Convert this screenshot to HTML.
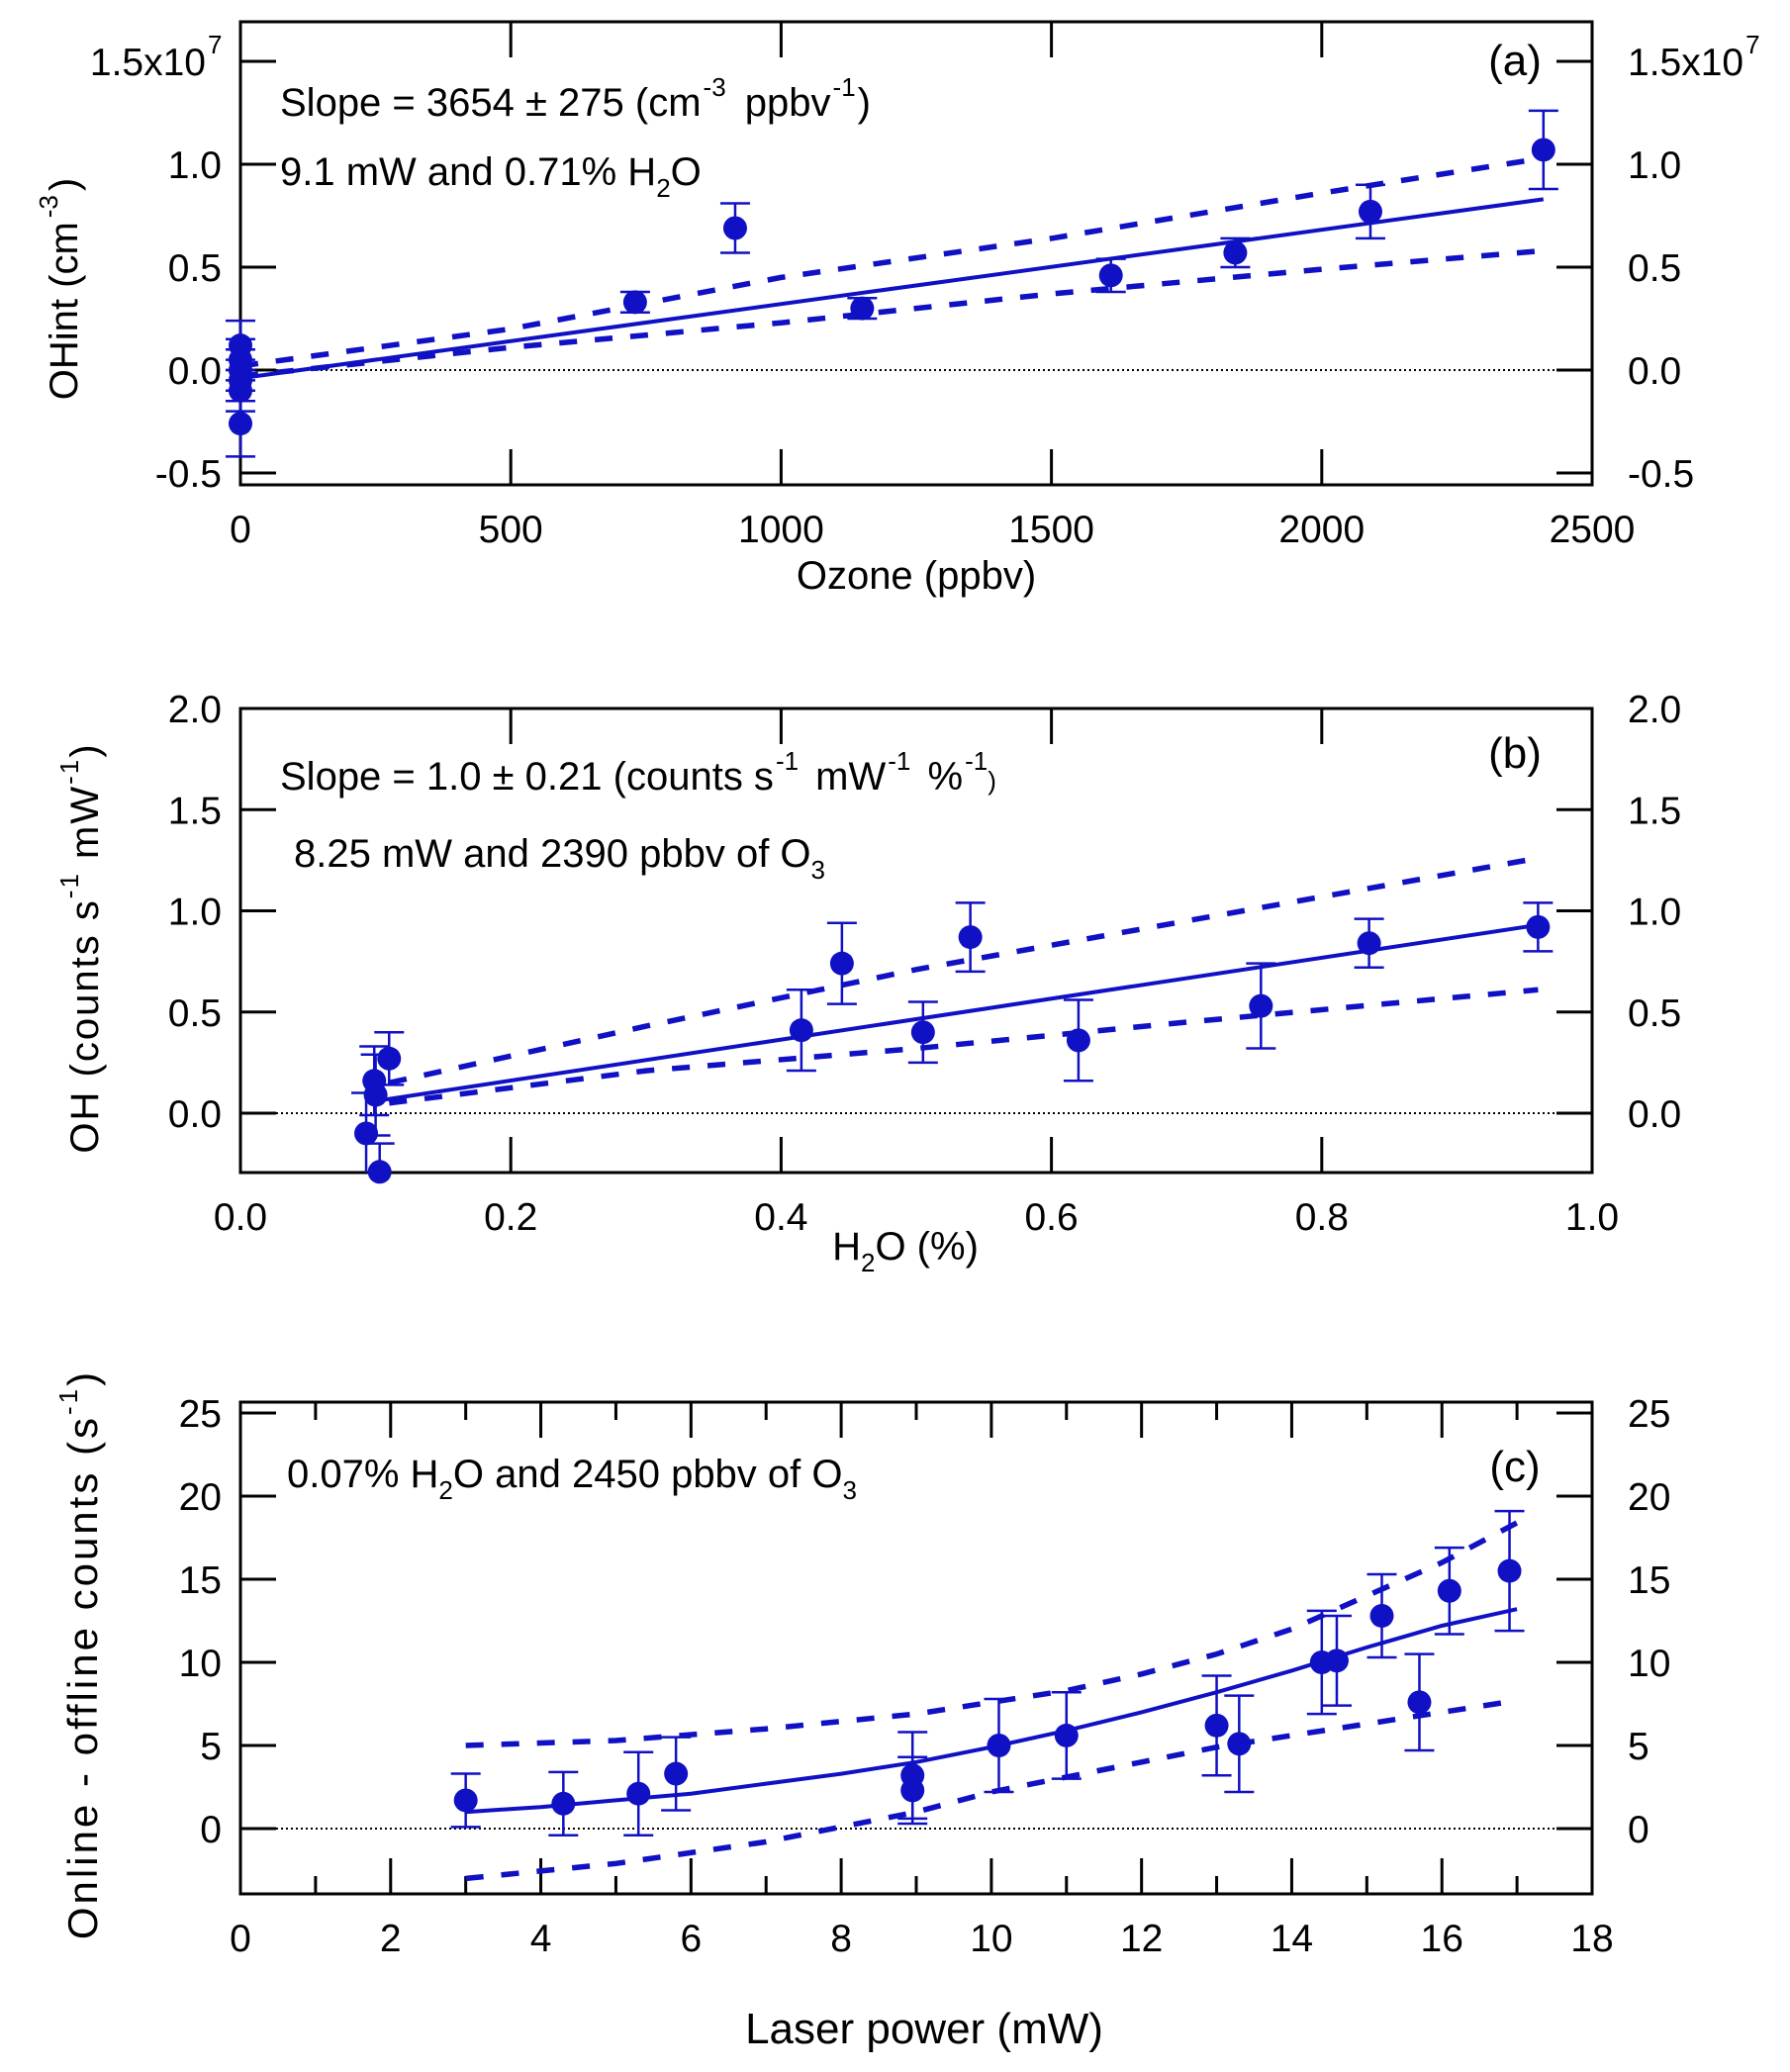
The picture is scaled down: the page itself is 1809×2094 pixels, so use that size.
<!DOCTYPE html>
<html><head><meta charset="utf-8">
<style>
html,body{margin:0;padding:0;background:#fff;}
svg{display:block;font-family:"Liberation Sans",Arial,sans-serif;}
</style></head>
<body>
<svg id="fig" width="1809" height="2094" viewBox="0 0 1809 2094" xmlns="http://www.w3.org/2000/svg"></svg>
<script>
// ---------- Panel (a) data ----------
const aOzone = [0, 0, 0, 0, 0, 0, 730, 915, 1150, 1610, 1840, 2090, 2410];
const aOH    = [0.12, 0.05, 0.0, -0.05, -0.10, -0.26, 0.33, 0.69, 0.30, 0.46, 0.57, 0.77, 1.07];
const aErr   = [0.12, 0.10, 0.10, 0.10, 0.10, 0.16, 0.05, 0.12, 0.05, 0.08, 0.07, 0.13, 0.19];
const aFitX  = [0, 2410];
const aFitY  = [-0.04, 0.83];
const aBandX = [0, 500, 1000, 1500, 2000, 2410];
const aUpper = [0.02, 0.20, 0.45, 0.64, 0.86, 1.03];
const aLower = [-0.03, 0.11, 0.23, 0.37, 0.49, 0.58];
const aXTicks = [0, 500, 1000, 1500, 2000, 2500];
const aYTicks = [-0.5, 0.0, 0.5, 1.0, 1.5];
const aYLabels = ["-0.5", "0.0", "0.5", "1.0", "1.5x10"];

// ---------- Panel (b) data ----------
const bH2O = [0.093, 0.099, 0.100, 0.103, 0.110, 0.415, 0.445, 0.505, 0.540, 0.620, 0.755, 0.835, 0.960];
const bOH  = [-0.10, 0.16, 0.09, -0.29, 0.27, 0.41, 0.74, 0.40, 0.87, 0.36, 0.53, 0.84, 0.92];
const bErr = [0.20, 0.17, 0.20, 0.14, 0.13, 0.20, 0.20, 0.15, 0.17, 0.20, 0.21, 0.12, 0.12];
const bFitX = [0.10, 0.96];
const bFitY = [0.06, 0.93];
const bBandX = [0.11, 0.3, 0.5, 0.7, 0.96];
const bUpper = [0.15, 0.43, 0.71, 0.95, 1.26];
const bLower = [0.05, 0.21, 0.32, 0.45, 0.61];
const bXTicks = [0, 0.2, 0.4, 0.6, 0.8, 1.0];
const bYTicks = [0, 0.5, 1.0, 1.5, 2.0];

// ---------- Panel (c) data ----------
const cPower = [3.0, 4.3, 5.3, 5.8, 8.95, 8.95, 10.1, 11.0, 13.0, 13.3, 14.4, 14.6, 15.2, 15.7, 16.1, 16.9];
const cCounts= [1.7, 1.5, 2.1, 3.3, 3.2, 2.3, 5.0, 5.6, 6.2, 5.1, 10.0, 10.1, 12.8, 7.6, 14.3, 15.5];
const cErr   = [1.6, 1.9, 2.5, 2.2, 2.6, 2.0, 2.8, 2.6, 3.0, 2.9, 3.1, 2.7, 2.5, 2.9, 2.6, 3.6];
const cFitX  = [3, 4, 5, 6, 7, 8, 9, 10, 11, 12, 13, 14, 15, 16, 17];
const cFitY  = [1.0, 1.3, 1.7, 2.1, 2.7, 3.3, 4.0, 4.9, 5.9, 7.0, 8.2, 9.5, 10.9, 12.2, 13.2];
const cBandX = [3, 5, 7, 9, 10, 11, 12, 13, 14, 15, 16, 17];
const cUpper = [5.0, 5.3, 6.0, 6.9, 7.6, 8.3, 9.3, 10.5, 12.0, 14.0, 16.0, 18.4];
const cLower = [-3.0, -2.1, -0.8, 1.0, 2.2, 3.1, 4.0, 4.9, 5.6, 6.3, 7.0, 7.7];
const cXTicks = [0, 2, 4, 6, 8, 10, 12, 14, 16, 18];
const cYTicks = [0, 5, 10, 15, 20, 25];

const NS = "http://www.w3.org/2000/svg";
const svg = document.getElementById('fig');
const BLUE = "#1010c4";
function el(tag, attrs, parent) {
  const e = document.createElementNS(NS, tag);
  for (const k in attrs) e.setAttribute(k, attrs[k]);
  (parent || svg).appendChild(e);
  return e;
}
function txt(x, y, s, size, anchor, parent) {
  const t = el('text', {x: x, y: y, 'font-size': size, 'text-anchor': anchor || 'start', fill: '#000'}, parent);
  t.textContent = s;
  return t;
}

function panel(cfg) {
  const g = el('g', {});
  
  
  const L = 243, R = 1609, T = cfg.top, B = cfg.bottom;
  const sx = v => L + (v - cfg.x0) / (cfg.x1 - cfg.x0) * (R - L);
  const sy = v => cfg.yZero - v * cfg.yScale;
  const z = el('line', {x1: L + 36, x2: R - 36, y1: sy(0), y2: sy(0), stroke: '#000', 'stroke-width': 2, 'stroke-dasharray': '2 3'}, g);
  
  
  const fr = el('rect', {x: L, y: T, width: R - L, height: B - T, fill: 'none', stroke: '#000', 'stroke-width': 3}, g);
  
  
  cfg.xTicks.forEach((v, i) => {
    const x = sx(v);
    el('line', {x1: x, x2: x, y1: T, y2: T + 36, stroke: '#000', 'stroke-width': 3}, g);
    el('line', {x1: x, x2: x, y1: B, y2: B - 36, stroke: '#000', 'stroke-width': 3}, g);
    const t = txt(x, cfg.xLabY, cfg.xFmt(v), 39, 'middle', g);
    
    
  });
  (cfg.xMinor || []).forEach(v => {
    const x = sx(v);
    el('line', {x1: x, x2: x, y1: T, y2: T + 18, stroke: '#000', 'stroke-width': 3}, g);
    el('line', {x1: x, x2: x, y1: B, y2: B - 18, stroke: '#000', 'stroke-width': 3}, g);
  });
  cfg.yTicks.forEach((v, i) => {
    const y = sy(v);
    el('line', {x1: L, x2: L + 36, y1: y, y2: y, stroke: '#000', 'stroke-width': 3}, g);
    el('line', {x1: R, x2: R - 36, y1: y, y2: y, stroke: '#000', 'stroke-width': 3}, g);
    const lab = cfg.yLabels ? cfg.yLabels[i] : cfg.yFmt(v);
    const sup = cfg.supIndex === i;
    const t1 = txt(sup ? 208 : 224, y + 14, lab, 39, 'end', g);
    
    
    const t2 = txt(1645, y + 14, lab, 39, 'start', g);
    
    
    if (sup) {
      txt(210, y - 8, '7', 26, 'start', g);
      const w = t2.getComputedTextLength();
      txt(1645 + w + 2, y - 8, '7', 26, 'start', g);
    }
  });
  function path(xs, ys, dash, name, w) {
    let d = '';
    xs.forEach((v, i) => { d += (i ? 'L' : 'M') + sx(v).toFixed(1) + ' ' + sy(ys[i]).toFixed(1); });
    const p = el('path', {d: d, fill: 'none', stroke: BLUE, 'stroke-width': w, 'stroke-dasharray': dash || 'none'}, g);
    
    
  }
  path(cfg.bandX, cfg.upper, '18 18', 'upper-confidence-band', 5.5);
  path(cfg.bandX, cfg.lower, '18 18', 'lower-confidence-band', 5.5);
  path(cfg.fitX, cfg.fitY, null, 'fit-line', 4);
  cfg.px.forEach((v, i) => {
    const x = sx(v), y = sy(cfg.py[i]), e = cfg.pe[i];
    const yt = Math.max(sy(cfg.py[i] + e), T), yb = Math.min(sy(cfg.py[i] - e), B);
    const eb = el('g', {stroke: BLUE, 'stroke-width': 2.5}, g);
    
    
    el('line', {x1: x, x2: x, y1: yt, y2: yb}, eb);
    if (sy(cfg.py[i] + e) >= T) el('line', {x1: x - 15, x2: x + 15, y1: yt, y2: yt}, eb);
    if (sy(cfg.py[i] - e) <= B) el('line', {x1: x - 15, x2: x + 15, y1: yb, y2: yb}, eb);
    const c = el('circle', {cx: x, cy: y, r: 12, fill: BLUE}, g);
    
    
  });
  return g;
}

panel({name: 'panel-a', top: 22, bottom: 490, x0: 0, x1: 2500, yZero: 374, yScale: 208,
  xTicks: aXTicks, yTicks: aYTicks, yLabels: aYLabels, supIndex: 4, xFmt: v => String(v), xLabY: 548,
  px: aOzone, py: aOH, pe: aErr, fitX: aFitX, fitY: aFitY, bandX: aBandX, upper: aUpper, lower: aLower});
panel({name: 'panel-b', top: 716, bottom: 1185, x0: 0, x1: 1.0, yZero: 1125, yScale: 204.5,
  xTicks: bXTicks, yTicks: bYTicks, xFmt: v => v.toFixed(1), yFmt: v => v.toFixed(1), xLabY: 1243,
  px: bH2O, py: bOH, pe: bErr, fitX: bFitX, fitY: bFitY, bandX: bBandX, upper: bUpper, lower: bLower});
panel({name: 'panel-c', top: 1417, bottom: 1914, x0: 0, x1: 18, yZero: 1848, yScale: 16.8,
  xTicks: cXTicks, xMinor: [1,3,5,7,9,11,13,15,17], yTicks: cYTicks, xFmt: v => String(v), yFmt: v => String(v), xLabY: 1972,
  px: cPower, py: cCounts, pe: cErr, fitX: cFitX, fitY: cFitY, bandX: cBandX, upper: cUpper, lower: cLower});
</script>
<svg style="position:absolute;left:0;top:0" width="1809" height="2094" xmlns="http://www.w3.org/2000/svg" font-family="Liberation Sans, Arial, sans-serif">
  <text x="1531" y="76" font-size="44" text-anchor="middle">(a)</text>
  <text x="283" y="117" font-size="40">Slope = 3654 ± 275 (cm<tspan dx="2" dy="-20" font-size="26">-3</tspan><tspan dx="8" dy="20"> ppbv</tspan><tspan dx="2" dy="-20" font-size="26">-1</tspan><tspan dx="2" dy="20">)</tspan></text>
  <text x="283" y="187" font-size="40">9.1 mW and 0.71% H<tspan dy="12" font-size="26">2</tspan><tspan dy="-12">O</tspan></text>
  <text x="926" y="595" font-size="40" text-anchor="middle">Ozone (ppbv)</text>
  <text transform="translate(78,292) rotate(-90)" font-size="40" text-anchor="middle">OHint (cm<tspan dx="4" dy="-20" font-size="26">-3</tspan><tspan dx="4" dy="20">)</tspan></text>
  <text x="1531" y="776" font-size="44" text-anchor="middle">(b)</text>
  <text x="283" y="798" font-size="40">Slope = 1.0 ± 0.21 (counts s<tspan dx="2" dy="-20" font-size="26">-1</tspan><tspan dx="6" dy="20"> mW</tspan><tspan dx="2" dy="-20" font-size="26">-1</tspan><tspan dx="6" dy="20"> %</tspan><tspan dx="2" dy="-20" font-size="26">-1</tspan><tspan dy="20" font-size="26">)</tspan></text>
  <text x="297" y="876" font-size="40">8.25 mW and 2390 pbbv of O<tspan dy="12" font-size="26">3</tspan></text>
  <text x="915" y="1273" font-size="40" text-anchor="middle">H<tspan dy="12" font-size="26">2</tspan><tspan dy="-12">O (%)</tspan></text>
  <text transform="translate(99,958) rotate(-90)" font-size="40" text-anchor="middle" letter-spacing="2">OH (counts s<tspan dy="-20" font-size="26">-1</tspan><tspan dy="20"> mW</tspan><tspan dy="-20" font-size="26">-1</tspan><tspan dy="20">)</tspan></text>
  <text x="1531" y="1497" font-size="44" text-anchor="middle">(c)</text>
  <text x="290" y="1503" font-size="40">0.07% H<tspan dy="12" font-size="26">2</tspan><tspan dy="-12">O and 2450 pbbv of O</tspan><tspan dy="12" font-size="26">3</tspan></text>
  <text x="934" y="2065" font-size="44" text-anchor="middle">Laser power (mW)</text>
  <text transform="translate(98,1672) rotate(-90)" font-size="42" text-anchor="middle" letter-spacing="3">Online - offline counts (s<tspan dy="-20" font-size="26">-1</tspan><tspan dy="20">)</tspan></text>
</svg>
</body></html>
